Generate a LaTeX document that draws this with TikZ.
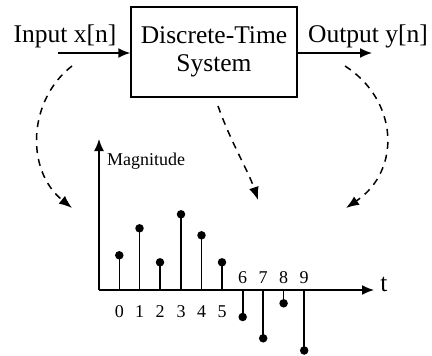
\documentclass[tikz,border=0pt]{standalone}
\usepackage{fontspec}
\setmainfont{Liberation Serif}
\usetikzlibrary{arrows.meta}
\begin{document}
\begin{tikzpicture}[x=1pt,y=-1pt,
  big/.style={font=\fontsize{25.5}{29}\selectfont, inner sep=0pt},
  small/.style={font=\fontsize{18}{21}\selectfont, inner sep=0pt},
  sysbox/.style={draw, line width=1.5pt, minimum width=166pt, minimum height=90pt, align=center, inner sep=0pt, font=\fontsize{25.5}{28}\selectfont},
  flow/.style={line width=1.5pt, -{Latex[length=12pt,width=10pt]}},
  dashflow/.style={line width=1.5pt, dash pattern=on 7pt off 6pt, -{Latex[length=13pt,width=10pt]}},
  axisline/.style={line width=1.5pt, -{Latex[length=12pt,width=10pt]}},
  stem/.style={line width=1.6pt},
  dot/.style={circle, fill=black, inner sep=0pt, minimum size=8.5pt}]
\useasboundingbox (0,0) rectangle (432,356);
% system block
\node[sysbox] (sys) at (214,52) {Discrete-Time\\System};
\node[big, anchor=base] (in) at (65,42) {Input x[n]};
\node[big, anchor=base] (out) at (368,42) {Output y[n]};
\coordinate (inS) at (58,53);
\coordinate (outE) at (372,53);
\draw[flow] (inS) -- (sys.west |- inS);
\draw[flow] (sys.east |- outE) -- (outE);
% axes
\coordinate (O) at (99,290);
\coordinate (ytop) at (99,139);
\coordinate (xend) at (374,290);
\draw[axisline] (O) -- (ytop);
\draw[axisline] (O) -- (xend);
\node[small, anchor=west] (mag) at (107,161) {Magnitude};
\node[big, anchor=base] (t) at (384,291) {t};
% stems
\foreach \i/\x/\y in {0/119.3/255.3, 1/139.5/228.3, 2/160/262.3, 3/181/214.3, 4/201.5/235.3, 5/222/262.3, 6/242.7/317, 7/263.2/338.3, 8/283.6/303.3, 9/304.2/350.5}{
  \coordinate (b\i) at (\x,290);
  \node[dot] (d\i) at (\x,\y) {};
  \draw[stem] (b\i) -- (d\i.center);
}
\foreach \i in {0,...,5}{
  \node[small] (l\i) at ([yshift=-21.5pt]b\i) {\i};
}
\foreach \i in {6,...,9}{
  \node[small] (l\i) at ([yshift=12pt]b\i) {\i};
}
% dashed arrows
\coordinate (a1s) at (72,66);
\coordinate (a1e) at (72,208);
\coordinate (a2s) at (218,106);
\coordinate (a2e) at (258,200);
\coordinate (a3s) at (345,66);
\coordinate (a3e) at (346,208);
\draw[dashflow] (a1s) .. controls (28,100) and (25,170) .. (a1e);
\draw[dashflow] (a2s) .. controls (232,145) and (248,170) .. (a2e);
\draw[dashflow] (a3s) .. controls (398,100) and (402,170) .. (a3e);
\end{tikzpicture}
\end{document}
